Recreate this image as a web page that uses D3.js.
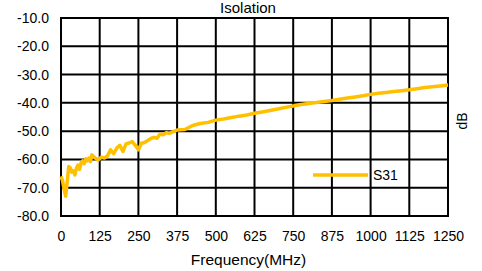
<!DOCTYPE html>
<html>
<head>
<meta charset="utf-8">
<script src="https://cdn.jsdelivr.net/npm/d3@7"></script>
<style>
  body { margin: 0; background: #fff; }
  svg { display: block; font-family: "Liberation Sans", Arial, sans-serif; }
</style>
</head>
<body>
<svg id="chart" width="482" height="271"></svg>
<script>
const freqs = [0, 5, 10, 15, 20, 25, 30, 35, 40, 45, 50, 55, 60, 65, 70, 75, 80, 85, 90, 95, 100,
  110, 120, 130, 140, 150, 160, 170, 180, 190, 200, 210, 220, 230, 240, 250, 260, 270, 280, 290, 300,
  310, 320, 330, 340, 350, 375, 400, 425, 450, 475, 500, 525, 550, 575, 600, 625, 650, 675, 700,
  725, 750, 775, 800, 825, 850, 875, 900, 925, 950, 975, 1000, 1025, 1050, 1075, 1100, 1125, 1150,
  1175, 1200, 1225, 1250];
const s31 = [-66.0, -67.5, -70.5, -73.0, -68.0, -62.5, -63.0, -64.5, -64.0, -65.5, -63.0, -62.0, -63.5,
  -61.2, -60.5, -61.5, -59.8, -60.5, -59.5, -60.8, -58.4,
  -59.5, -60.2, -59.2, -59.5, -58.8, -56.6, -58.0, -56.0, -55.0, -57.2, -54.5, -54.2, -53.7, -55.0,
  -56.6, -54.3, -54.0, -53.3, -52.6, -52.2, -52.5, -51.0, -51.3, -50.5, -50.8,
  -49.6, -49.4, -48.0, -47.3, -46.9, -46.1, -45.7, -45.2, -44.7, -44.3, -43.7, -43.2, -42.7, -42.2,
  -41.6, -41.1, -40.6, -40.2, -39.9, -39.5, -39.2, -38.7, -38.3, -37.9, -37.5, -37.0, -36.6, -36.3,
  -36.0, -35.7, -35.4, -35.0, -34.6, -34.3, -34.0, -33.7];
const xTicks = [0, 125, 250, 375, 500, 625, 750, 875, 1000, 1125, 1250];
const yTicks = [-10, -20, -30, -40, -50, -60, -70, -80];

const svg = d3.select("#chart");
const plotL = 61, plotR = 448, plotT = 18, plotB = 216;

const x = d3.scaleLinear().domain([0, 1250]).range([plotL, plotR]);
const y = d3.scaleLinear().domain([-80, -10]).range([plotB, plotT]);

// grid
const grid = svg.append("g").attr("stroke", "#000").attr("stroke-width", 2);
grid.selectAll(".v").data(xTicks).enter().append("line")
  .attr("x1", d => x(d)).attr("x2", d => x(d))
  .attr("y1", plotT).attr("y2", plotB);
grid.selectAll(".h").data(yTicks).enter().append("line")
  .attr("x1", plotL - 1).attr("x2", plotR + 1)
  .attr("y1", d => y(d)).attr("y2", d => y(d));

// axes labels
const yAxis = svg.append("g")
  .attr("transform", "translate(" + plotL + ",0)")
  .call(d3.axisLeft(y).tickValues(yTicks).tickSize(0).tickPadding(12)
    .tickFormat(d => d.toFixed(1)));
yAxis.select(".domain").remove();
yAxis.selectAll("text").attr("font-size", 14).attr("fill", "#000")
  .attr("font-family", "Liberation Sans, Arial, sans-serif");

const xAxis = svg.append("g")
  .attr("transform", "translate(0," + plotB + ")")
  .call(d3.axisBottom(x).tickValues(xTicks).tickSize(0).tickPadding(15)
    .tickFormat(d => d));
xAxis.select(".domain").remove();
xAxis.selectAll("text").attr("font-size", 14).attr("fill", "#000")
  .attr("font-family", "Liberation Sans, Arial, sans-serif");

// series
const line = d3.line().x((d, i) => x(freqs[i])).y(d => y(d));
svg.append("path")
  .datum(s31)
  .attr("fill", "none")
  .attr("stroke", "#FFC000")
  .attr("stroke-width", 3.5)
  .attr("stroke-linejoin", "round")
  .attr("d", line);

// titles
svg.append("text").attr("x", 248).attr("y", 12.5).attr("text-anchor", "middle")
  .attr("font-size", 15).text("Isolation");
svg.append("text").attr("x", 248.5).attr("y", 265).attr("text-anchor", "middle")
  .attr("font-size", 15.5).text("Frequency(MHz)");
svg.append("text").attr("transform", "translate(467,121) rotate(-90)")
  .attr("text-anchor", "middle").attr("font-size", 14).text("dB");

// legend
svg.append("line").attr("x1", 313).attr("x2", 368).attr("y1", 175).attr("y2", 175)
  .attr("stroke", "#FFC000").attr("stroke-width", 3.5);
svg.append("text").attr("x", 373).attr("y", 180).attr("font-size", 14).text("S31");
</script>
</body>
</html>
